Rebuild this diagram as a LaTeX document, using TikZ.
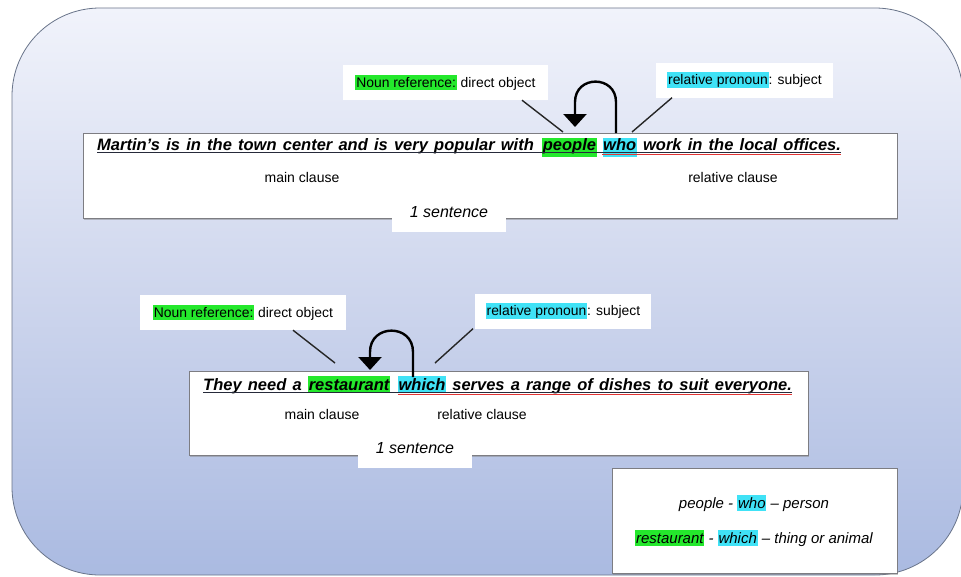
\documentclass[tikz,border=0pt]{standalone}
\usepackage{fontspec}
\setmainfont{Liberation Sans}
\usetikzlibrary{arrows.meta,shadows}

\definecolor{hlgreen}{RGB}{36,232,44}
\definecolor{hlcyan}{RGB}{64,226,246}
\definecolor{bgtop}{RGB}{241,243,251}
\definecolor{bgmid}{RGB}{206,214,237}
\definecolor{bgbot}{RGB}{170,186,225}
\definecolor{rimgray}{RGB}{105,116,138}
\definecolor{boxgray}{RGB}{125,125,130}
\definecolor{ulred}{RGB}{226,52,52}
\definecolor{uldark}{RGB}{38,42,58}

% inline highlighter pen
\newcommand\hilite[2]{{\setlength{\fboxsep}{0.8pt}\colorbox{#1}{\rule[-0.15em]{0pt}{0.95em}#2}}}
% bold italic sentence face with slightly open word spacing
\newcommand\sentfont{\fontsize{16.5}{20}\selectfont\bfseries\itshape\setlength{\spaceskip}{6.2pt}}

\begin{document}
\begin{tikzpicture}[x=1pt,y=-1pt,
  sentbox/.style={draw=boxgray, fill=white, line width=0.9pt, inner sep=0pt,
    drop shadow={shadow xshift=1.2pt, shadow yshift=-1.6pt, opacity=0.45}},
  sent/.style={font=\sentfont, inner sep=0pt, anchor=base west},
  hlword/.style={sent, inner xsep=0.6pt},
  lbl/.style={fill=white, font=\fontsize{13.9}{16}\selectfont, inner sep=0pt, minimum height=35pt},
  clause/.style={font=\fontsize{14}{17}\selectfont, inner sep=0pt, anchor=base},
  onesent/.style={fill=white, font=\fontsize{16}{19}\selectfont\itshape, inner sep=0pt,
    minimum width=114pt, minimum height=37pt, text height=11.5pt, text depth=3pt},
  conn/.style={line width=1.4pt, black!85},
  looparr/.style={line width=2.4pt, black, -{Triangle[width=23pt,length=13pt]}},
  ulmain/.style={uldark, line width=0.9pt},
  ulrel/.style={ulred, line width=1pt},
  legendtxt/.style={font=\fontsize{15}{18}\selectfont\itshape, inner sep=0pt, anchor=base}
]
\useasboundingbox (0,0) rectangle (961,576);
\fill[white] (0,0) rectangle (961,576);

% rounded panel with vertical gradient
\path[draw=rimgray, line width=0.8pt, rounded corners=88pt,
  top color=bgtop, bottom color=bgbot, middle color=bgmid]
  (12,8) rectangle (963,575);

% ---------- first sentence ----------
\node[sentbox, minimum width=814pt, minimum height=85pt] (box1) at (490,175.5) {};
\node[sent] (m1) at (97,150) {Martin’s is in the town center and is very popular with};
\node[hlword, fill=hlgreen, text height=12pt, text depth=7pt] (p1) at ([xshift=8pt]m1.base east) {people};
\node[hlword, fill=hlcyan, text height=12pt, text depth=7pt] (w1) at ([xshift=5.5pt]p1.base east) {who};
\node[sent] (r1) at ([xshift=6pt]w1.base east) {work in the local offices.};
\draw[ulmain] ([yshift=-2pt]m1.base west) -- ([yshift=-2pt]r1.base east);
\draw[ulrel] ([yshift=-4pt]w1.base west) -- ([yshift=-4pt]r1.base east);

\node[clause] (mc1) at (302,182) {main clause};
\node[clause] (rc1) at (733,182) {relative clause};
\node[onesent] (one1) at (449,213.5) {1 sentence};

\node[lbl, minimum width=205pt] (nr1) at (445.5,82.5) {\hilite{hlgreen}{Noun reference:} direct object};
\node[lbl, minimum width=177pt] (rp1) at (744.5,80) {\hilite{hlcyan}{relative pronoun}: subject};

\coordinate (nr1end) at (563,132);
\coordinate (rp1end) at (632,132);
\draw[conn] ([xshift=76.5pt]nr1.south) -- (nr1end);
\draw[conn] ([xshift=-72.5pt]rp1.south) -- (rp1end);

\coordinate (arr1from) at (616,133);
\coordinate (arr1to) at (575,127);
\draw[looparr] (arr1from) -- (616,102) to[out=90,in=90,looseness=1.7] (575,102) -- (arr1to);

% ---------- second sentence ----------
\node[sentbox, minimum width=619pt, minimum height=84pt] (box2) at (498.5,413) {};
\node[sent] (m2) at (203,390) {They need a};
\node[hlword, fill=hlgreen, text height=14.5pt, text depth=2pt] (p2) at ([xshift=6pt]m2.base east) {restaurant};
\node[hlword, fill=hlcyan, text height=14.5pt, text depth=2pt] (w2) at ([xshift=7.5pt]p2.base east) {which};
\node[sent] (r2) at ([xshift=6pt]w2.base east) {serves a range of dishes to suit everyone.};
\draw[ulmain] ([yshift=-2pt]m2.base west) -- ([yshift=-2pt]r2.base east);
\draw[ulrel] ([yshift=-4pt]w2.base west) -- ([yshift=-4pt]r2.base east);

\node[clause] (mc2) at (322,419) {main clause};
\node[clause] (rc2) at (482,419) {relative clause};
\node[onesent] (one2) at (415,449.5) {1 sentence};

\node[lbl, minimum width=206pt] (nr2) at (243,312.5) {\hilite{hlgreen}{Noun reference:} direct object};
\node[lbl, minimum width=176pt] (rp2) at (563,311) {\hilite{hlcyan}{relative pronoun}: subject};

\coordinate (nr2end) at (335,363);
\coordinate (rp2end) at (435,363);
\draw[conn] ([xshift=50pt]nr2.south) -- (nr2end);
\draw[conn] ([xshift=-90pt]rp2.south) -- (rp2end);

\coordinate (arr2from) at (413,377);
\coordinate (arr2to) at (370,370);
\draw[looparr] (arr2from) -- (413,352) to[out=90,in=90,looseness=1.7] (370,352) -- (arr2to);

% ---------- legend ----------
\node[sentbox, minimum width=285pt, minimum height=105pt] (legend) at (754.5,520.5) {};
\node[legendtxt] (lg1) at (754,508) {people - \hilite{hlcyan}{who} – person};
\node[legendtxt] (lg2) at (754,543) {\hilite{hlgreen}{restaurant} - \hilite{hlcyan}{which} – thing or animal};
\end{tikzpicture}
\end{document}
